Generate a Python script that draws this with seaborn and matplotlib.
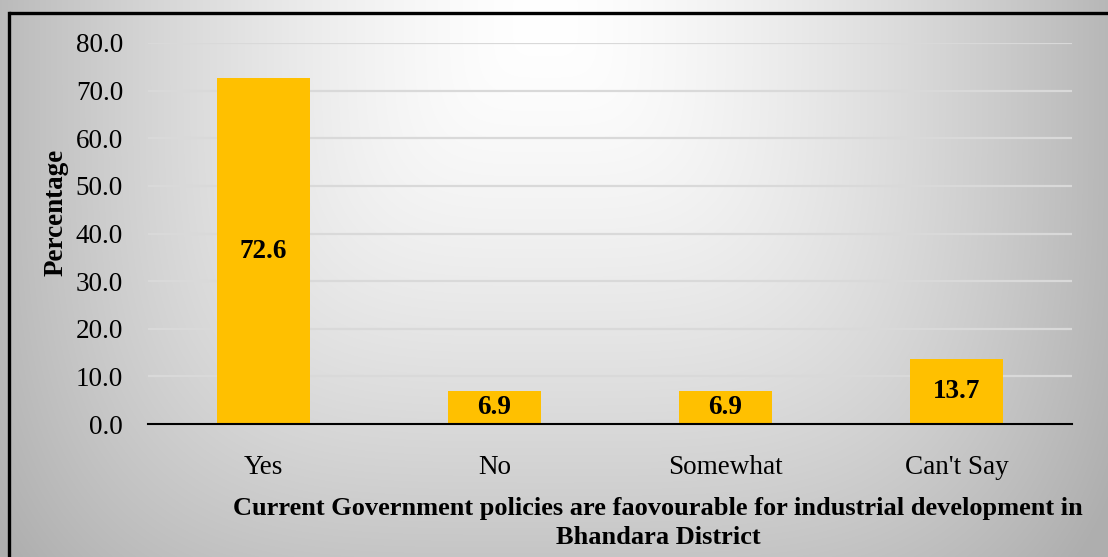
import numpy as np
import pandas as pd
import matplotlib
matplotlib.use("Agg")
import matplotlib.pyplot as plt
from matplotlib.lines import Line2D
import seaborn as sns

categories = ["Yes", "No", "Somewhat", "Can't Say"]
values = [72.6, 6.9, 6.9, 13.7]
yticks = [0, 10, 20, 30, 40, 50, 60, 70, 80]
xlabel = "Current Government policies are faovourable for industrial development in\nBhandara District"
ylabel = "Percentage"

plt.rcParams['font.family'] = ['Liberation Serif', 'DejaVu Serif']

W, H = 1108, 557
fig = plt.figure(figsize=(W / 100, H / 100), dpi=100)

# background gradient
yy, xx = np.mgrid[0:H, 0:W]
dx = np.abs(xx - 545) / 580.0
dy = np.abs(yy - 20) / 640.0
r = (dx ** 4 + dy ** 4) ** 0.25
c = 255 - 75 * np.clip(r, 0, 1.05) ** 1.5
c = np.clip(c, 0, 255) / 255.0
img = np.dstack([c, c, c])
bg = fig.add_axes([0, 0, 1, 1], zorder=-1)
bg.imshow(img, aspect='auto', extent=(0, 1, 0, 1), origin='upper')
bg.set_xlim(0, 1)
bg.set_ylim(0, 1)
bg.axis('off')

# border (left and top only visible)
bx, by = 8.5 / W, 1 - 12.5 / H
fig.add_artist(Line2D([bx, bx], [0, by], transform=fig.transFigure,
                      color='black', linewidth=2.4, solid_capstyle='projecting'))
fig.add_artist(Line2D([bx, 1.0], [by, by], transform=fig.transFigure,
                      color='black', linewidth=2.4, solid_capstyle='butt'))

ax = fig.add_axes([148 / W, 1 - 424 / H, (1072 - 148) / W, (424 - 43) / H])
ax.set_facecolor('none')

df = pd.DataFrame({"cat": categories, "val": values})
sns.barplot(data=df, x="cat", y="val", color="#FFC000", width=0.4,
            saturation=1, ax=ax, zorder=3)
for cont in ax.containers:
    ax.bar_label(cont, labels=[f"{v:.1f}" for v in values], label_type='center',
                 fontsize=19.5, fontweight='bold', color='black')

ax.set_ylim(0, 80)
ax.set_xlim(-0.5, len(categories) - 0.5)
ax.set_yticks(yticks)
ax.set_yticklabels([f"{t:.1f}" for t in yticks])
ax.yaxis.grid(True, color='#d9d9d9', linewidth=1.6, zorder=0)
ax.set_axisbelow(True)
for s in ['top', 'right', 'left']:
    ax.spines[s].set_visible(False)
ax.spines['bottom'].set_color('black')
ax.spines['bottom'].set_linewidth(1.5)
ax.spines['bottom'].set_zorder(4)
ax.tick_params(axis='both', length=0, labelsize=19.5)
ax.tick_params(axis='x', pad=22)
ax.tick_params(axis='y', pad=18)

ax.set_xlabel(xlabel, fontsize=19, fontweight='bold', linespacing=1.35)
ax.xaxis.set_label_coords((658 - 148) / (1072 - 148), (424 - 497) / (424 - 43))
ax.xaxis.label.set_va('top')
ax.set_ylabel(ylabel, fontsize=19.5, fontweight='bold')
ax.yaxis.set_label_coords((56 - 148) / (1072 - 148), (424 - 212) / (424 - 43))
ax.yaxis.label.set_va('center')

fig.savefig("out.png", dpi=100)
